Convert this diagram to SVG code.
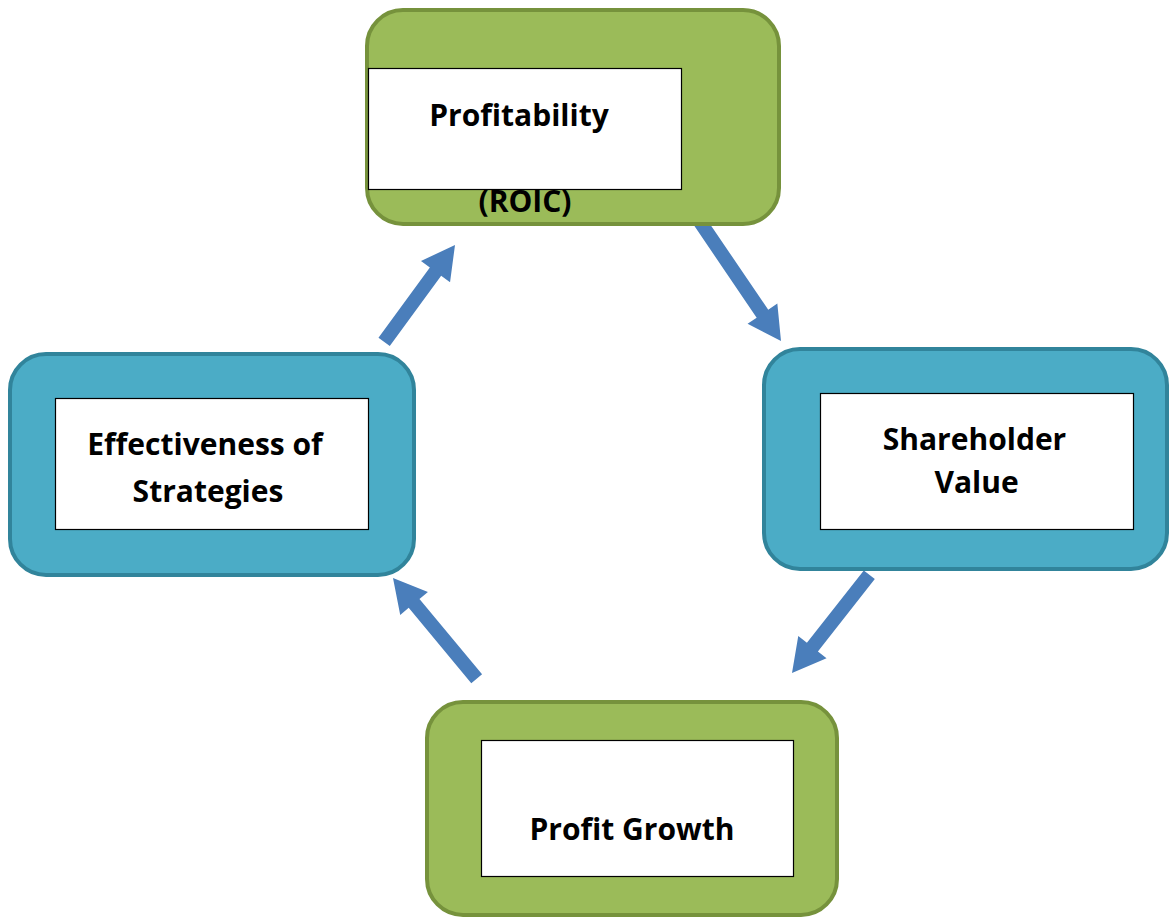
<svg xmlns="http://www.w3.org/2000/svg" width="1169" height="917" viewBox="0 0 1169 917">
  <style>
    .green { fill: #9bbb59; stroke: #76923c; stroke-width: 4; }
    .blue { fill: #4bacc6; stroke: #31849b; stroke-width: 4; }
    .box { fill: #ffffff; stroke: #000000; stroke-width: 1.2; }
    .label { font-family: "Open Sans", "Noto Sans", "Liberation Sans", sans-serif; font-weight: bold; font-size: 30px; fill: #000000; text-anchor: middle; }
    .arrow { fill: #4a7ebb; }
  </style>
  <rect width="1169" height="917" fill="#ffffff"/>

  <!-- cycle connectors: block arrows, tip at the local origin pointing along +x -->
  <g id="connectors">
    <polygon class="arrow" transform="translate(781,341) rotate(55.8)" points="-144,-7 -33,-7 -33,-18 0,0 -33,18 -33,7 -144,7"/>
    <polygon class="arrow" transform="translate(792,673) rotate(128.2)" points="-125,-7 -33,-7 -33,-18 0,0 -33,18 -33,7 -125,7"/>
    <polygon class="arrow" transform="translate(393,578) rotate(-129.7)" points="-131,-7 -33,-7 -33,-18 0,0 -33,18 -33,7 -131,7"/>
    <polygon class="arrow" transform="translate(455,245) rotate(-53.8)" points="-120,-7 -33,-7 -33,-18 0,0 -33,18 -33,7 -120,7"/>
  </g>

  <g id="node-profitability">
    <rect class="green" x="367" y="10" width="412" height="214" rx="36" ry="36"/>
    <rect class="box" x="368.5" y="68.5" width="313" height="121"/>
    <text class="label" x="519" y="126">Profitability</text>
    <text class="label" x="525" y="212">(ROIC)</text>
  </g>

  <g id="node-shareholder-value">
    <rect class="blue" x="764" y="349" width="403" height="220" rx="36" ry="36"/>
    <rect class="box" x="820.5" y="393.5" width="313" height="136"/>
    <text class="label" x="974.5" y="450">Shareholder</text>
    <text class="label" x="976.5" y="493">Value</text>
  </g>

  <g id="node-profit-growth">
    <rect class="green" x="427" y="702" width="410" height="213" rx="36" ry="36"/>
    <rect class="box" x="481.5" y="740.5" width="312" height="136"/>
    <text class="label" x="632" y="840">Profit Growth</text>
  </g>

  <g id="node-strategies">
    <rect class="blue" x="10" y="354" width="404" height="221" rx="36" ry="36"/>
    <rect class="box" x="55.5" y="398.5" width="313" height="131"/>
    <text class="label" x="205" y="455">Effectiveness of</text>
    <text class="label" x="208" y="502">Strategies</text>
  </g>
</svg>
